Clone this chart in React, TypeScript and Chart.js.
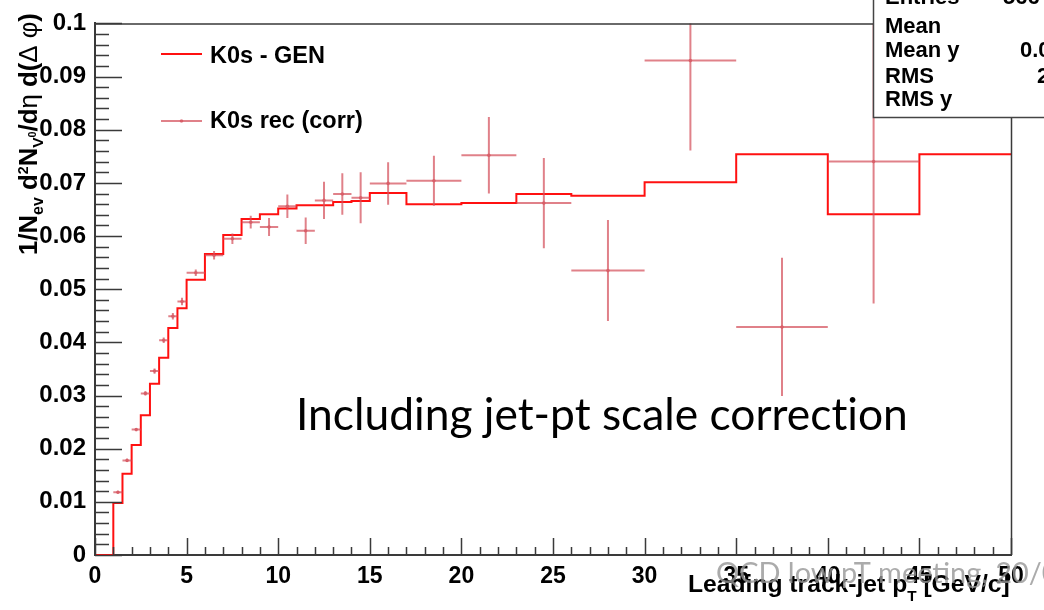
import React, { useEffect, useRef } from "react";
import { Chart, registerables } from "chart.js";

Chart.register(...registerables);

// ---- data ----
const binEdges = [0, 1, 1.5, 2, 2.5, 3, 3.5, 4, 4.5, 5, 6, 7, 8, 9, 10, 11, 12, 13, 14, 15, 17, 20, 23, 26, 30, 35, 40, 45, 50];
const genValues = [0, 0.0098, 0.0153, 0.0207, 0.0263, 0.0322, 0.0371, 0.0427, 0.0464, 0.0518, 0.0566, 0.0602, 0.0632, 0.0641, 0.0652, 0.0658, 0.0658, 0.0664, 0.0666, 0.0681, 0.066, 0.0662, 0.0679, 0.0676, 0.0701, 0.0754, 0.0641, 0.0754];

const recLow = [1, 1.5, 2, 2.5, 3, 3.5, 4, 4.5, 5, 6, 7, 8, 9, 10, 11, 12, 13, 14, 15, 17, 20, 23, 26, 30, 35, 40];
const recHigh = [1.5, 2, 2.5, 3, 3.5, 4, 4.5, 5, 6, 7, 8, 9, 10, 11, 12, 13, 14, 15, 17, 20, 23, 26, 30, 35, 40, 45];
const recValues = [0.0118, 0.0178, 0.0236, 0.0304, 0.0346, 0.0404, 0.0449, 0.0477, 0.0531, 0.0564, 0.0595, 0.0626, 0.0617, 0.0656, 0.061, 0.0667, 0.0679, 0.0672, 0.0699, 0.0704, 0.0752, 0.0662, 0.0535, 0.093, 0.0429, 0.074];
const recErrors = [0.0003, 0.0003, 0.0003, 0.0004, 0.0005, 0.0005, 0.0006, 0.0007, 0.0006, 0.0008, 0.001, 0.0012, 0.0017, 0.0022, 0.0025, 0.0035, 0.0039, 0.0048, 0.004, 0.0047, 0.0072, 0.0085, 0.0095, 0.0169, 0.013, 0.0267];

const xMajorTicks = [0, 5, 10, 15, 20, 25, 30, 35, 40, 45, 50];
const yMajorTicks = [0, 0.01, 0.02, 0.03, 0.04, 0.05, 0.06, 0.07, 0.08, 0.09, 0.1];
const xMinorDiv = 5;
const yMinorDiv = 5;

const legendLabels = ["K0s - GEN", "K0s rec (corr)"];
const statsLabels = ["Entries", "Mean", "Mean y", "RMS", "RMS y"];
const statsValues = ["566", "", "0.0", "2", ""];

const GEN_COLOR = "#ff1010";
const REC_COLOR = "rgba(212,80,92,0.72)";
const AXIS_COLOR = "#3a3a3a";
const FONT = "'Liberation Sans', Arial, sans-serif";

function fitSize(ctx: CanvasRenderingContext2D, text: string, family: string, weight: string, target: number) {
  ctx.font = `${weight} 100px ${family}`;
  const w = ctx.measureText(text).width;
  return (100 * target) / w;
}

const decorPlugin = {
  id: "decor",
  afterDatasetsDraw(chart: any) {
    const { ctx, chartArea: a, scales } = chart;
    const x = scales.x, y = scales.y;
    ctx.save();
    ctx.beginPath();
    ctx.rect(a.left, a.top, a.right - a.left, a.bottom - a.top);
    ctx.clip();
    ctx.strokeStyle = REC_COLOR;
    ctx.lineWidth = 2;
    for (let i = 0; i < recValues.length; i++) {
      const cx = x.getPixelForValue((recLow[i] + recHigh[i]) / 2);
      const cy = y.getPixelForValue(recValues[i]);
      ctx.beginPath();
      ctx.moveTo(x.getPixelForValue(recLow[i]), cy);
      ctx.lineTo(x.getPixelForValue(recHigh[i]), cy);
      ctx.moveTo(cx, y.getPixelForValue(recValues[i] - recErrors[i]));
      ctx.lineTo(cx, y.getPixelForValue(recValues[i] + recErrors[i]));
      ctx.stroke();
    }
    ctx.restore();
  },
  afterDraw(chart: any) {
    const { ctx, chartArea: a, scales } = chart;
    const x = scales.x, y = scales.y;
    ctx.save();
    // ticks
    ctx.strokeStyle = AXIS_COLOR;
    ctx.lineWidth = 1.5;
    ctx.beginPath();
    for (let i = 0; i < yMajorTicks.length; i++) {
      const py = Math.round(y.getPixelForValue(yMajorTicks[i])) + 0.5;
      ctx.moveTo(a.left, py);
      ctx.lineTo(a.left + 27, py);
      if (i < yMajorTicks.length - 1) {
        const step = (yMajorTicks[i + 1] - yMajorTicks[i]) / yMinorDiv;
        for (let k = 1; k < yMinorDiv; k++) {
          const my = Math.round(y.getPixelForValue(yMajorTicks[i] + k * step)) + 0.5;
          ctx.moveTo(a.left, my);
          ctx.lineTo(a.left + 14, my);
        }
      }
    }
    for (let i = 0; i < xMajorTicks.length; i++) {
      const px = Math.round(x.getPixelForValue(xMajorTicks[i])) + 0.5;
      ctx.moveTo(px, a.bottom);
      ctx.lineTo(px, a.bottom - 17);
      if (i < xMajorTicks.length - 1) {
        const step = (xMajorTicks[i + 1] - xMajorTicks[i]) / xMinorDiv;
        for (let k = 1; k < xMinorDiv; k++) {
          const mx = Math.round(x.getPixelForValue(xMajorTicks[i] + k * step)) + 0.5;
          ctx.moveTo(mx, a.bottom);
          ctx.lineTo(mx, a.bottom - 8);
        }
      }
    }
    ctx.stroke();

    // frame top & right
    const boxLeft = 873, boxBottom = 117;
    ctx.beginPath();
    ctx.moveTo(a.left, a.top + 0.5);
    ctx.lineTo(boxLeft, a.top + 0.5);
    ctx.moveTo(a.right + 0.5, boxBottom);
    ctx.lineTo(a.right + 0.5, a.bottom);
    ctx.stroke();

    // stats box
    ctx.fillStyle = "#fff";
    ctx.fillRect(boxLeft, -5, 1100 - boxLeft, boxBottom + 5);
    ctx.strokeStyle = "#444";
    ctx.lineWidth = 1.5;
    ctx.strokeRect(boxLeft + 0.5, -5, 1100 - boxLeft, boxBottom + 5.5);
    ctx.fillStyle = "#000";
    ctx.font = `bold 22px ${FONT}`;
    ctx.textAlign = "left";
    ctx.textBaseline = "alphabetic";
    const statsY = [4, 33, 57, 83, 106];
    const statsValX = [1003, 1020, 1020, 1037, 1020];
    for (let i = 0; i < statsLabels.length; i++) {
      ctx.fillText(statsLabels[i], 885, statsY[i]);
      if (statsValues[i]) ctx.fillText(statsValues[i], statsValX[i], statsY[i]);
    }

    // legend
    ctx.lineWidth = 2;
    ctx.strokeStyle = GEN_COLOR;
    ctx.beginPath();
    ctx.moveTo(161, 54);
    ctx.lineTo(202, 54);
    ctx.stroke();
    ctx.strokeStyle = REC_COLOR;
    ctx.beginPath();
    ctx.moveTo(161, 121);
    ctx.lineTo(202, 121);
    ctx.stroke();
    ctx.fillStyle = REC_COLOR;
    ctx.beginPath();
    ctx.arc(181.5, 121, 1.8, 0, Math.PI * 2);
    ctx.fill();
    ctx.fillStyle = "#000";
    ctx.font = `bold 23.5px ${FONT}`;
    ctx.fillText(legendLabels[0], 210, 63);
    ctx.fillText(legendLabels[1], 210, 128);

    // x axis title
    const xParts = [
      { t: "Leading track-jet p", s: 1, dy: 0 },
      { t: "T", s: 0.62, dy: 9 },
      { t: " [GeV/c]", s: 1, dy: 0 },
    ];
    const baseX = 23;
    let tw = 0;
    for (const p of xParts) { ctx.font = `bold ${baseX * p.s}px ${FONT}`; tw += ctx.measureText(p.t).width; }
    const scX = 322 / tw;
    let cx = 1010 - 322;
    for (const p of xParts) {
      ctx.font = `bold ${baseX * p.s * scX}px ${FONT}`;
      ctx.fillText(p.t, cx, 592 + p.dy);
      cx += ctx.measureText(p.t).width;
    }

    // y axis title (rotated)
    const yParts = [
      { t: "1/N", s: 1, dy: 0, b: true },
      { t: "ev", s: 0.62, dy: 6, b: true },
      { t: " d", s: 1, dy: 0, b: true },
      { t: "2", s: 0.55, dy: -9, b: true },
      { t: "N", s: 1, dy: 0, b: true },
      { t: "V", s: 0.6, dy: 6, b: true },
      { t: "0", s: 0.42, dy: -1, b: true },
      { t: "/d", s: 1, dy: 0, b: true },
      { t: "\u03b7", s: 1, dy: 0, b: false },
      { t: " d(", s: 1, dy: 0, b: true },
      { t: "\u0394", s: 1, dy: 0, b: false },
      { t: " \u03c6", s: 1, dy: 0, b: false },
      { t: ")", s: 1, dy: 0, b: true },
    ];
    const baseY = 23;
    let th = 0;
    for (const p of yParts) { ctx.font = `${p.b ? "bold " : ""}${baseY * p.s}px ${FONT}`; th += ctx.measureText(p.t).width; }
    const scY = 242 / th;
    ctx.save();
    ctx.translate(37, 13);
    ctx.rotate(-Math.PI / 2);
    let tx = -242;
    for (const p of yParts) {
      ctx.font = `${p.b ? "bold " : ""}${baseY * p.s * scY}px ${FONT}`;
      ctx.fillText(p.t, tx, p.dy);
      tx += ctx.measureText(p.t).width;
    }
    ctx.restore();

    // annotation texts (ZWNJ prevents the "ti" ligature)
    const ann = "Including jet-pt scale correct\u200Cion";
    const annSize = fitSize(ctx, ann, "Lato", "normal", 612);
    ctx.font = `normal ${annSize}px Lato`;
    ctx.fillStyle = "#000";
    ctx.fillText(ann, 296, 430);

    const foot = "QCD low pT meeting, 20/";
    const footSize = fitSize(ctx, foot, "Lato", "normal", 326);
    ctx.font = `normal ${footSize}px Lato`;
    ctx.fillStyle = "rgba(150,150,150,0.8)";
    ctx.fillText(foot + "05/2011", 716, 583);

    ctx.restore();
  },
};

export default function App() {
  const ref = useRef<HTMLCanvasElement | null>(null);
  useEffect(() => {
    if (!ref.current) return;
    const genPts: { x: number; y: number }[] = [];
    for (let i = 0; i < genValues.length; i++) {
      genPts.push({ x: binEdges[i], y: genValues[i] });
      genPts.push({ x: binEdges[i + 1], y: genValues[i] });
    }
    const recPts = recValues.map((v, i) => ({ x: (recLow[i] + recHigh[i]) / 2, y: v }));
    const chart = new Chart(ref.current, {
      type: "line",
      data: {
        datasets: [
          {
            label: legendLabels[0],
            data: genPts,
            borderColor: GEN_COLOR,
            borderWidth: 2,
            pointRadius: 0,
            tension: 0,
            fill: false,
          },
          {
            label: legendLabels[1],
            type: "scatter",
            data: recPts,
            pointRadius: 1.8,
            pointBackgroundColor: REC_COLOR,
            pointBorderWidth: 0,
            showLine: false,
          } as any,
        ],
      },
      options: {
        animation: false,
        responsive: false,
        devicePixelRatio: 1,
        layout: { padding: { top: 20, right: 33, left: 0, bottom: 0 } },
        plugins: { legend: { display: false }, tooltip: { enabled: false }, title: { display: false } },
        scales: {
          x: {
            type: "linear",
            min: 0,
            max: 50,
            grid: { display: false, drawTicks: false },
            border: { display: true, color: AXIS_COLOR, width: 2 },
            ticks: {
              stepSize: 5,
              padding: 8,
              maxRotation: 0,
              color: "#000",
              font: { family: FONT, size: 23, weight: "bold" },
              callback: (v: any) => String(v),
            },
            afterFit: (s: any) => { s.height = 55; },
          },
          y: {
            type: "linear",
            min: 0,
            max: 0.1,
            grid: { display: false, drawTicks: false },
            border: { display: true, color: AXIS_COLOR, width: 2 },
            ticks: {
              stepSize: 0.01,
              padding: 9,
              color: "#000",
              font: { family: FONT, size: 24, weight: "bold" },
              callback: (v: any) => String(Number(Number(v).toFixed(3))),
            },
            afterFit: (s: any) => { s.width = 95; },
          },
        },
      } as any,
      plugins: [decorPlugin],
    });
    return () => chart.destroy();
  }, []);
  return (
    <div style={{ position: "absolute", left: 0, top: 0, width: 1044, height: 610, background: "#fff" }}>
      <canvas ref={ref} width={1044} height={610} style={{ display: "block", width: 1044, height: 610 }} />
    </div>
  );
}
